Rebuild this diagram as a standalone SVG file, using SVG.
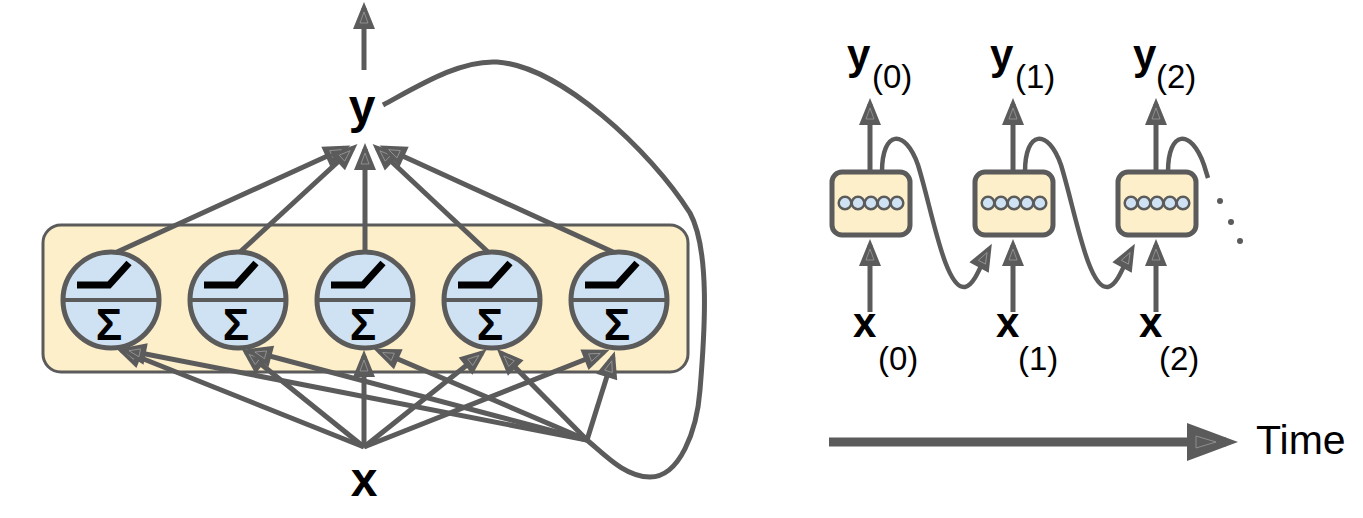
<svg xmlns="http://www.w3.org/2000/svg" width="1363" height="518" viewBox="0 0 1363 518">
<style>
.c{fill:none;stroke:#5b5b5b;stroke-width:5}
.cc{fill:none;stroke:#5b5b5b;stroke-width:4.5}
.neu{fill:#cfe2f3;stroke:#5b5b5b;stroke-width:5}
.div{stroke:#5b5b5b;stroke-width:4}
.relu{fill:none;stroke:#000;stroke-width:7}
.sig{font-family:"Liberation Sans",Arial,sans-serif;font-weight:bold;font-size:44px;fill:#000;text-anchor:middle}
.lbl{font-family:"Liberation Sans",Arial,sans-serif;font-weight:bold;fill:#000}
.sub{font-family:"Liberation Sans",Arial,sans-serif;fill:#000}
.cell{fill:#fdefc9;stroke:#5b5b5b;stroke-width:5}
.dot{fill:#cfe2f3;stroke:#5b5b5b;stroke-width:2.5}
</style>
<defs>
<marker id="a" markerUnits="userSpaceOnUse" markerWidth="30" markerHeight="26" viewBox="0 0 30 26" refX="22" refY="13" orient="auto">
<path d="M1,2 L28,13 L1,24 Z" fill="#5b5b5b"/>
<path d="M7,9 L18,13 L7,17 Z" fill="none" stroke="#9a9a9a" stroke-width="0.8"/>
</marker>
<marker id="b" markerUnits="userSpaceOnUse" markerWidth="54" markerHeight="40" viewBox="0 0 54 40" refX="40" refY="20" orient="auto">
<path d="M1,1 L52,20 L1,39 Z" fill="#5b5b5b"/>
<path d="M10,14 L30,20 L10,26 Z" fill="none" stroke="#9a9a9a" stroke-width="0.8"/>
</marker>
</defs>

<g id="layer">
<rect x="43" y="225" width="645" height="147" rx="18" fill="#fdefc9" stroke="#5b5b5b" stroke-width="3"/>
</g>

<g id="n1"><circle class="neu" cx="111" cy="300" r="48"/><line class="div" x1="63" y1="300" x2="159" y2="300"/><polyline class="relu" points="77,285 109,285 129,263"/><text class="sig" x="109" y="340">Σ</text></g>
<g id="n2"><circle class="neu" cx="238" cy="300" r="48"/><line class="div" x1="190" y1="300" x2="286" y2="300"/><polyline class="relu" points="204,285 236,285 256,263"/><text class="sig" x="236" y="340">Σ</text></g>
<g id="n3"><circle class="neu" cx="365" cy="300" r="48"/><line class="div" x1="317" y1="300" x2="413" y2="300"/><polyline class="relu" points="331,285 363,285 383,263"/><text class="sig" x="363" y="340">Σ</text></g>
<g id="n4"><circle class="neu" cx="492" cy="300" r="48"/><line class="div" x1="444" y1="300" x2="540" y2="300"/><polyline class="relu" points="458,285 490,285 510,263"/><text class="sig" x="490" y="340">Σ</text></g>
<g id="n5"><circle class="neu" cx="619" cy="300" r="48"/><line class="div" x1="571" y1="300" x2="667" y2="300"/><polyline class="relu" points="585,285 617,285 637,263"/><text class="sig" x="617" y="340">Σ</text></g>

<g id="ylabel"><text class="lbl" x="362" y="123" font-size="48" text-anchor="middle">y</text></g>
<g id="xlabel"><text class="lbl" x="364" y="496" font-size="48" text-anchor="middle">x</text></g>

<g id="cells">
<g id="cell0"><rect class="cell" x="832" y="172" width="78" height="63" rx="10"/><circle class="dot" cx="845" cy="203" r="6.3"/><circle class="dot" cx="858" cy="203" r="6.3"/><circle class="dot" cx="871" cy="203" r="6.3"/><circle class="dot" cx="884" cy="203" r="6.3"/><circle class="dot" cx="897" cy="203" r="6.3"/></g>
<g id="cell1"><rect class="cell" x="975" y="172" width="78" height="63" rx="10"/><circle class="dot" cx="988" cy="203" r="6.3"/><circle class="dot" cx="1001" cy="203" r="6.3"/><circle class="dot" cx="1014" cy="203" r="6.3"/><circle class="dot" cx="1027" cy="203" r="6.3"/><circle class="dot" cx="1040" cy="203" r="6.3"/></g>
<g id="cell2"><rect class="cell" x="1118" y="172" width="78" height="63" rx="10"/><circle class="dot" cx="1131" cy="203" r="6.3"/><circle class="dot" cx="1144" cy="203" r="6.3"/><circle class="dot" cx="1157" cy="203" r="6.3"/><circle class="dot" cx="1170" cy="203" r="6.3"/><circle class="dot" cx="1183" cy="203" r="6.3"/></g>
</g>

<g id="labels-right">
<text class="lbl" x="847" y="69" font-size="42">y</text><text class="sub" x="872" y="88" font-size="33">(0)</text>
<text class="lbl" x="990" y="69" font-size="42">y</text><text class="sub" x="1015" y="88" font-size="33">(1)</text>
<text class="lbl" x="1133" y="69" font-size="42">y</text><text class="sub" x="1156" y="88" font-size="33">(2)</text>
<text class="lbl" x="853" y="337" font-size="42">x</text><text class="sub" x="878" y="370" font-size="33">(0)</text>
<text class="lbl" x="996" y="337" font-size="42">x</text><text class="sub" x="1018" y="370" font-size="33">(1)</text>
<text class="lbl" x="1139" y="337" font-size="42">x</text><text class="sub" x="1159" y="370" font-size="33">(2)</text>
<text class="sub" x="1256" y="454" font-size="41">Time</text>
</g>

<g id="connectors">
<line class="c" x1="364" y1="70" x2="364" y2="8" marker-end="url(#a)"/>
<line class="c" x1="117" y1="252" x2="345" y2="148" marker-end="url(#a)"/>
<line class="c" x1="240" y1="252" x2="353" y2="148" marker-end="url(#a)"/>
<line class="c" x1="365" y1="252" x2="365" y2="149" marker-end="url(#a)"/>
<line class="c" x1="488" y1="252" x2="377" y2="148" marker-end="url(#a)"/>
<line class="c" x1="613" y1="252" x2="385" y2="148" marker-end="url(#a)"/>
<line class="c" x1="364" y1="447" x2="121" y2="350" marker-end="url(#a)"/>
<line class="c" x1="364" y1="447" x2="246" y2="352" marker-end="url(#a)"/>
<line class="c" x1="364" y1="447" x2="364" y2="356" marker-end="url(#a)"/>
<line class="c" x1="364" y1="447" x2="482" y2="353" marker-end="url(#a)"/>
<line class="c" x1="364" y1="447" x2="604" y2="352" marker-end="url(#a)"/>
<line class="c" x1="587" y1="440" x2="125" y2="350" marker-end="url(#a)"/>
<line class="c" x1="587" y1="440" x2="251" y2="351" marker-end="url(#a)"/>
<line class="c" x1="587" y1="440" x2="379" y2="351" marker-end="url(#a)"/>
<line class="c" x1="587" y1="440" x2="501" y2="353" marker-end="url(#a)"/>
<line class="c" x1="587" y1="440" x2="613" y2="357" marker-end="url(#a)"/>
<path class="c" d="M383,105 C420,85 460,60 497,62 C560,66 650,150 690,213 C710,250 705,330 700,390 C697,430 680,477 650,477 C625,477 605,455 587,440"/>

<line class="c" x1="870" y1="172" x2="870" y2="104" marker-end="url(#a)"/>
<line class="c" x1="1013" y1="172" x2="1013" y2="104" marker-end="url(#a)"/>
<line class="c" x1="1156" y1="172" x2="1156" y2="104" marker-end="url(#a)"/>
<line class="c" x1="870" y1="312" x2="870" y2="245" marker-end="url(#a)"/>
<line class="c" x1="1013" y1="312" x2="1013" y2="245" marker-end="url(#a)"/>
<line class="c" x1="1156" y1="312" x2="1156" y2="245" marker-end="url(#a)"/>
<path class="cc" d="M882,172 C882,130 905,128 918,165 C932,210 945,290 965,287 C975,285 982,262 989,249" marker-end="url(#a)"/>
<path class="cc" d="M1025,172 C1025,130 1048,128 1061,165 C1075,210 1088,290 1108,287 C1118,285 1125,262 1132,249" marker-end="url(#a)"/>
<path class="cc" d="M1168,172 C1168,130 1191,128 1204,165 L1208,178"/>
<circle cx="1220" cy="201" r="3" fill="#5b5b5b"/>
<circle cx="1231" cy="222" r="3" fill="#5b5b5b"/>
<circle cx="1240" cy="241" r="3" fill="#5b5b5b"/>
<line x1="829" y1="442" x2="1226" y2="442" stroke="#5b5b5b" stroke-width="9" marker-end="url(#b)"/>
</g>
</svg>
